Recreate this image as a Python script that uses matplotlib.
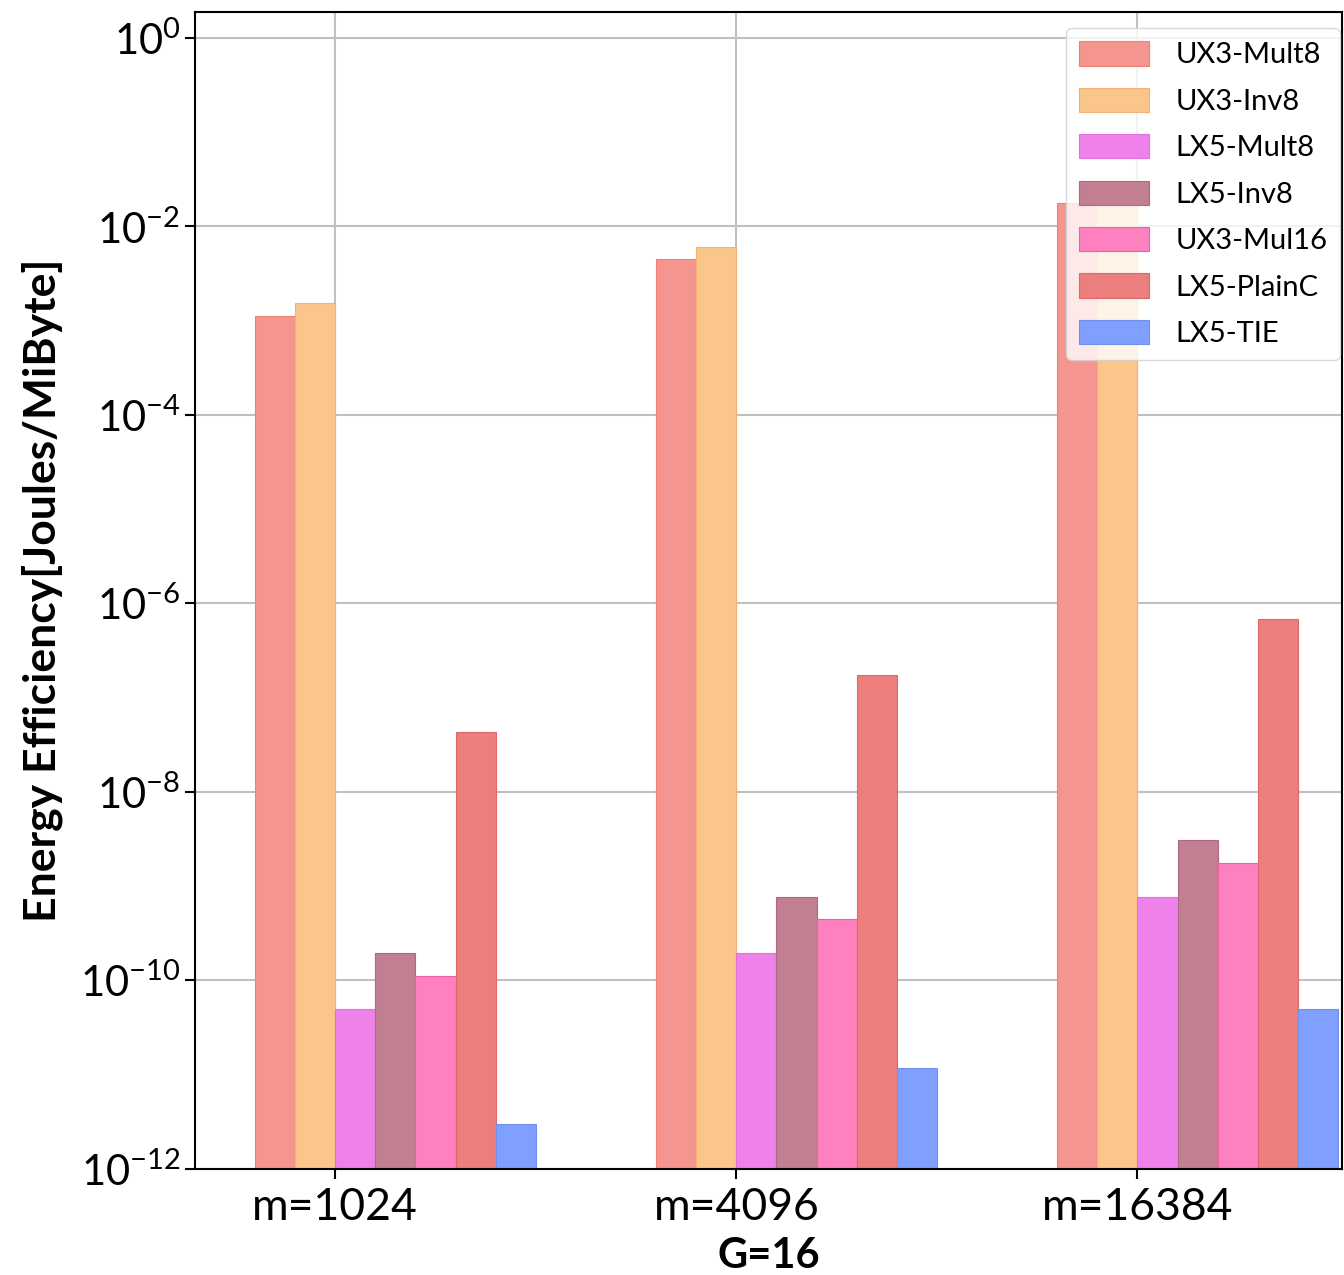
import numpy as np
import matplotlib
matplotlib.use("Agg")
import matplotlib.pyplot as plt
from matplotlib.ticker import FixedLocator, NullLocator, LogFormatterMathtext

# data (log scale)
groups = ["m=1024", "m=4096", "m=16384"]
series = ["UX3-Mult8", "UX3-Inv8", "LX5-Mult8", "LX5-Inv8", "UX3-Mul16", "LX5-PlainC", "LX5-TIE"]
ux3_mult8  = [1.12e-3, 4.5e-3, 1.78e-2]
ux3_inv8   = [1.54e-3, 6.1e-3, 2.56e-2]
lx5_mult8  = [4.9e-11, 1.95e-10, 7.7e-10]
lx5_inv8   = [1.95e-10, 7.6e-10, 3.07e-9]
ux3_mul16  = [1.11e-10, 4.46e-10, 1.76e-9]
lx5_plainc = [4.3e-8, 1.73e-7, 6.8e-7]
lx5_tie    = [2.97e-12, 1.17e-11, 4.93e-11]
values = [ux3_mult8, ux3_inv8, lx5_mult8, lx5_inv8, ux3_mul16, lx5_plainc, lx5_tie]

colors = ["#F4968F", "#FAC68C", "#EE82EA", "#C27F91", "#FF80BF", "#EC7E7E", "#7FA0FF"]
edges  = ["#F08070", "#F8B070", "#E070E0", "#B06A80", "#F0609F", "#E06868", "#7090F0"]

plt.rcParams["font.family"] = ["Lato", "DejaVu Sans"]
plt.rcParams["mathtext.fontset"] = "custom"
plt.rcParams["mathtext.rm"] = "Lato"
plt.rcParams["mathtext.it"] = "Lato:italic"
plt.rcParams["mathtext.bf"] = "Lato:bold"

fig = plt.figure(figsize=(13.44, 12.75), dpi=100)
ax = fig.add_axes([0.145, 0.0835, 0.8535, 0.9071])

x = np.arange(len(groups))
w = 0.1
for j, (name, vals) in enumerate(zip(series, values)):
    ax.bar(x + (j - 2) * w, vals, w, align="edge",
           color=colors[j], edgecolor=edges[j], linewidth=0.8,
           label=name, zorder=2)

ax.set_yscale("log")
ax.set_ylim(1e-12, 10 ** 0.277)
ax.set_xlim(-0.35, 2.51)
ax.yaxis.set_major_locator(FixedLocator([10.0 ** k for k in range(-12, 1, 2)]))
ax.yaxis.set_major_formatter(LogFormatterMathtext())
ax.yaxis.set_minor_locator(NullLocator())
ax.set_xticks(x)
ax.set_xticklabels(groups)

ax.grid(True, color="#C0C0C0", linewidth=1.5, zorder=0)
ax.set_axisbelow(True)
ax.tick_params(axis="both", labelsize=30, length=7, width=1.5, direction="out")
ax.tick_params(axis="x", labelsize=32, pad=6)
for s in ax.spines.values():
    s.set_linewidth(1.5)

ax.set_ylabel("Energy Efficiency[Joules/MiByte]", fontsize=32, fontweight="bold", labelpad=12)
ax.set_xlabel("G=16", fontsize=30, fontweight="bold", labelpad=7)

leg = ax.legend(loc="upper right", fontsize=21, handlelength=2.4, handleheight=0.9,
                labelspacing=0.66, borderpad=0.45, handletextpad=0.9,
                framealpha=0.8, borderaxespad=0,
                bbox_to_anchor=(0.9985, 0.986))
leg.get_frame().set_edgecolor("#D0D0D0")

fig.savefig("out.png", dpi=100)
